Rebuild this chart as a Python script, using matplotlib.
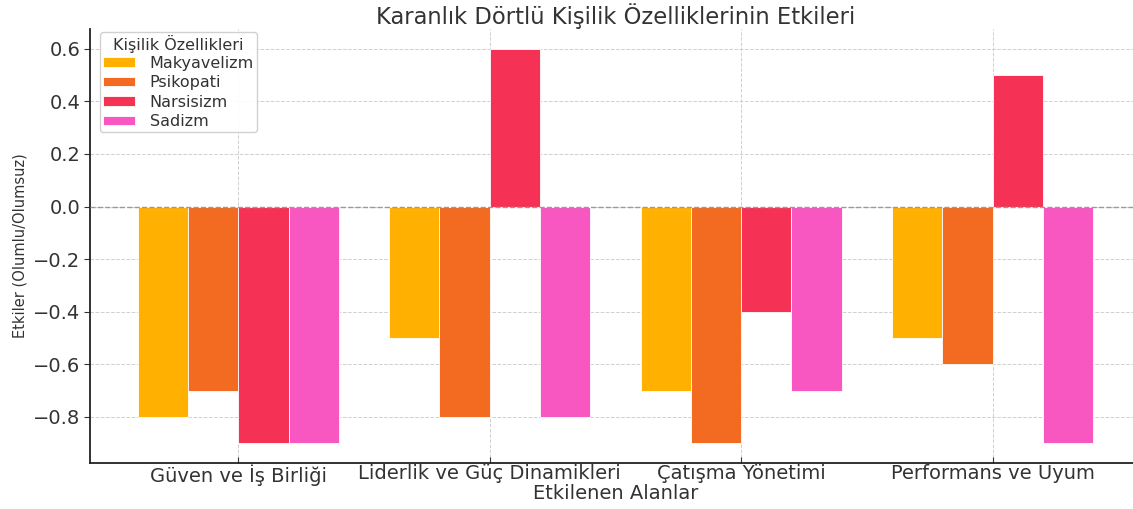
import numpy as np
import matplotlib
matplotlib.use("Agg")
import matplotlib.pyplot as plt

categories = ["Güven ve İş Birliği", "Liderlik ve Güç Dinamikleri",
              "Çatışma Yönetimi", "Performans ve Uyum"]
traits = ["Makyavelizm", "Psikopati", "Narsisizm", "Sadizm"]
makyavelizm = [-0.8, -0.5, -0.7, -0.5]
psikopati = [-0.7, -0.8, -0.9, -0.6]
narsisizm = [-0.9, 0.6, -0.4, 0.5]
sadizm = [-0.9, -0.8, -0.7, -0.9]
colors = ["#FFB000", "#F26B21", "#F53255", "#F857C1"]

plt.rcParams["font.family"] = ["DejaVu Sans"]
text_col = "#333333"

fig = plt.figure(figsize=(11.33, 5.09), dpi=100)
ax = fig.add_axes([0.0794, 0.0904, 0.9276, 0.8527])

x = np.arange(len(categories))
w = 0.2
for i, (name, vals) in enumerate(zip(traits, [makyavelizm, psikopati, narsisizm, sadizm])):
    ax.bar(x + (i - 1.5) * w, vals, w, label=name, color=colors[i],
           edgecolor="white", linewidth=0.6, zorder=3)

ax.axhline(0, color="#999999", linestyle="--", linewidth=1, zorder=4)
ax.grid(True, linestyle="--", color="#d0d0d0", linewidth=0.7, zorder=0)
ax.set_axisbelow(True)

ax.set_xticks(x)
ax.set_xticklabels(categories)
ax.set_xlim(-0.59, 3.59)
ax.set_ylim(-0.975, 0.675)
ax.set_yticks([-0.8, -0.6, -0.4, -0.2, 0.0, 0.2, 0.4, 0.6])

for s in ["top", "right"]:
    ax.spines[s].set_visible(False)
for s in ["left", "bottom"]:
    ax.spines[s].set_linewidth(1.3)
    ax.spines[s].set_color("#222222")
ax.tick_params(axis="y", labelsize=14, colors=text_col, length=4, pad=3)
ax.tick_params(axis="x", labelsize=14, colors=text_col, length=4,
               direction="in", pad=1)

ax.set_title("Karanlık Dörtlü Kişilik Özelliklerinin Etkileri", fontsize=16.3,
             color=text_col, pad=3)
ax.set_xlabel("Etkilenen Alanlar", fontsize=14, color=text_col, labelpad=-1)
ax.set_ylabel("Etkiler (Olumlu/Olumsuz)", fontsize=10.5, color=text_col,
              labelpad=4)

leg = ax.legend(title="Kişilik Özellikleri", loc="upper left", fontsize=11.5,
                title_fontsize=11.5, frameon=True, framealpha=0.9,
                edgecolor="#cccccc", borderpad=0.2, labelspacing=0.28,
                handlelength=2.0, handleheight=0.55, handletextpad=0.9,
                borderaxespad=0.3, bbox_to_anchor=(0.005, 1.005))
leg._legend_box.sep = 2
for t in leg.get_texts():
    t.set_color(text_col)
leg.get_title().set_color(text_col)

fig.savefig("out.png", dpi=100)
